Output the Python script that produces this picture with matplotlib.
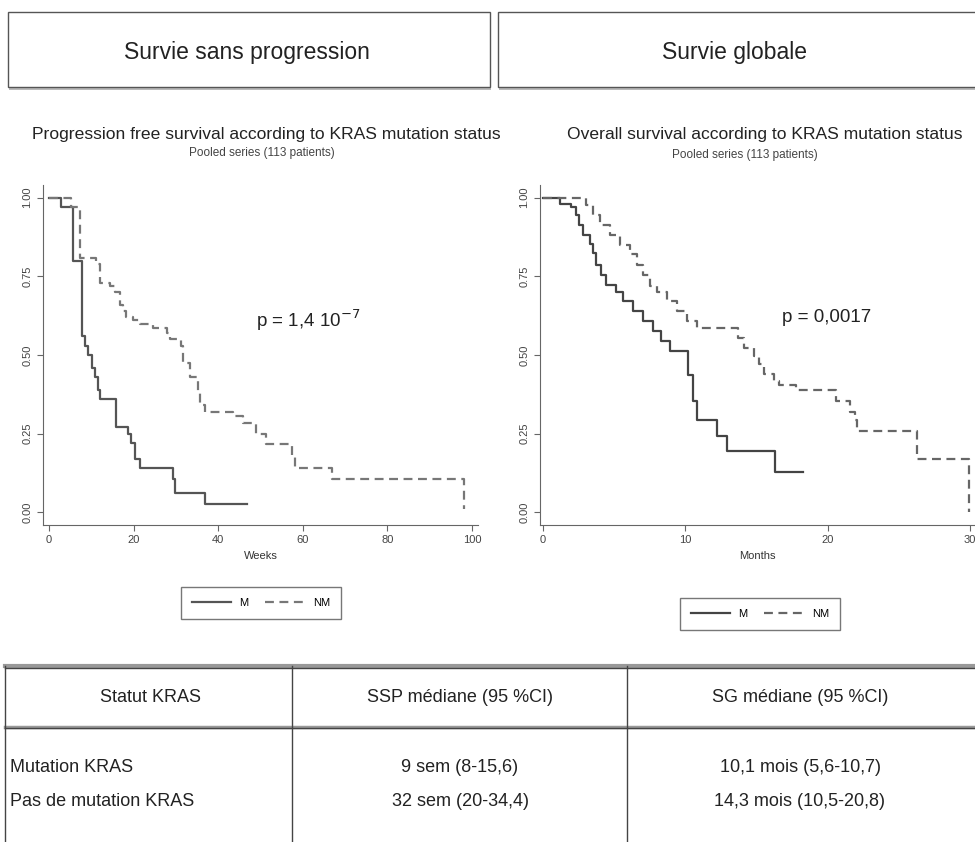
import matplotlib
matplotlib.use('Agg')
import matplotlib.pyplot as plt
from matplotlib.patches import Rectangle
from matplotlib.lines import Line2D

plt.rcParams['font.family'] = ['Liberation Sans', 'DejaVu Sans']

# panel headers
headers = ['Survie sans progression', 'Survie globale']

# PFS (weeks) - Kaplan-Meier steps
pfs_m_t = [0, 2.9, 5.7, 7.7, 8.5, 9.3, 10.1, 10.9, 11.7, 12.1, 15.9, 18.7, 19.5, 20.3, 21.5, 29.4, 29.8, 36.8, 46.7]
pfs_m_s = [1.0, 0.97, 0.80, 0.56, 0.53, 0.50, 0.46, 0.43, 0.39, 0.36, 0.27, 0.25, 0.22, 0.17, 0.14, 0.105, 0.063, 0.026, 0.026]
pfs_nm_t = [0, 5.3, 7.3, 11.2, 12.0, 14.4, 15.6, 16.7, 17.5, 18.3, 19.9, 21.5, 24.6, 27.8, 28.6, 31.3, 31.7, 33.3, 35.3, 35.7, 36.8, 43.5, 45.9, 49.0, 51.4, 57.4, 58.1, 66.8, 97.9, 98.0]
pfs_nm_s = [1.0, 0.97, 0.807, 0.79, 0.73, 0.72, 0.70, 0.66, 0.64, 0.62, 0.61, 0.60, 0.585, 0.57, 0.55, 0.53, 0.475, 0.43, 0.38, 0.34, 0.32, 0.306, 0.285, 0.25, 0.216, 0.18, 0.142, 0.105, 0.105, 0.01]

# OS (months)
os_m_t = [0, 1.2, 2.0, 2.3, 2.5, 2.8, 3.3, 3.5, 3.75, 4.1, 4.45, 5.15, 5.6, 6.3, 7.0, 7.7, 8.3, 8.9, 10.2, 10.55, 10.8, 12.2, 12.9, 16.3, 18.3]
os_m_s = [1.0, 0.98, 0.97, 0.944, 0.912, 0.88, 0.854, 0.823, 0.786, 0.754, 0.723, 0.70, 0.67, 0.64, 0.607, 0.575, 0.543, 0.512, 0.438, 0.353, 0.295, 0.243, 0.195, 0.127, 0.127]
os_nm_t = [0, 3.05, 3.5, 4.0, 4.7, 5.4, 6.1, 6.6, 7.0, 7.5, 8.0, 8.7, 9.4, 10.1, 10.8, 11.5, 13.7, 14.1, 14.8, 15.2, 15.5, 16.2, 16.6, 17.8, 20.6, 21.6, 21.9, 22.1, 26.25, 29.9, 29.95]
os_nm_s = [1.0, 0.976, 0.944, 0.912, 0.88, 0.85, 0.82, 0.786, 0.754, 0.72, 0.70, 0.67, 0.64, 0.607, 0.585, 0.585, 0.554, 0.522, 0.496, 0.47, 0.44, 0.417, 0.406, 0.39, 0.353, 0.32, 0.295, 0.258, 0.169, 0.169, 0.0]

plot_titles = ['Progression free survival according to KRAS mutation status',
               'Overall survival according to KRAS mutation status']
subtitle = 'Pooled series (113 patients)'
xlabels = ['Weeks', 'Months']
pvalues = ['p = 1,4 10$^{-7}$', 'p = 0,0017']
yticks = [0, 0.25, 0.5, 0.75, 1.0]
ytick_labels = ['0.00', '0.25', '0.50', '0.75', '1.00']
pfs_xticks = [0, 20, 40, 60, 80, 100]
os_xticks = [0, 10, 20, 30]

# table
table_cols = ['Statut KRAS', 'SSP médiane (95 %CI)', 'SG médiane (95 %CI)']
table_rows = ['Mutation KRAS', 'Pas de mutation KRAS']
table_ssp = ['9 sem (8-15,6)', '32 sem (20-34,4)']
table_sg = ['10,1 mois (5,6-10,7)', '14,3 mois (10,5-20,8)']

W, H = 975, 842
fig = plt.figure(figsize=(9.75, 8.42), dpi=100)

# background layer in pixel coordinates
bg = fig.add_axes([0, 0, 1, 1], zorder=0)
bg.set_xlim(0, W)
bg.set_ylim(H, 0)
bg.axis('off')

# header boxes
for x0, x1, txt in [(8, 490, headers[0]), (498, 990, headers[1])]:
    bg.add_patch(Rectangle((x0 + 1, 14), x1 - x0, 76, fc='#bbbbbb', ec='none', zorder=1))
    bg.add_patch(Rectangle((x0, 12), x1 - x0, 75, fc='white', ec='#555555', lw=1.0, zorder=2))
    bg.text((x0 + min(x1, W)) / 2 - 2, 53, txt, ha='center', va='center', fontsize=16.5,
            color='#222222', zorder=3)

# plot titles (left one clipped at panel edge)
clip_rect = Rectangle((0, 100), 491, 100, transform=bg.transData)
t = bg.text(266, 134, plot_titles[0], ha='center', va='center', fontsize=12.6, color='#222222')
t.set_clip_path(clip_rect)
bg.text(765, 134, plot_titles[1], ha='center', va='center', fontsize=12.6, color='#222222')
bg.text(262, 153, subtitle, ha='center', va='center', fontsize=8.5, color='#444444')
bg.text(745, 155, subtitle, ha='center', va='center', fontsize=8.5, color='#444444')

# p-values
bg.text(256, 320, pvalues[0], ha='left', va='center', fontsize=13.5, color='#222222', zorder=5)
bg.text(782, 318, pvalues[1], ha='left', va='center', fontsize=13.5, color='#222222', zorder=5)


def px_axes(x0, x1, y0, y1):
    return fig.add_axes([x0 / W, 1 - y1 / H, (x1 - x0) / W, (y1 - y0) / H], zorder=2)


def style(ax):
    for s in ['top', 'right']:
        ax.spines[s].set_visible(False)
    ax.spines['left'].set_color('#666666')
    ax.spines['bottom'].set_color('#666666')
    ax.set_yticks(yticks)
    ax.set_yticklabels(ytick_labels, rotation=90, va='center', fontsize=8, color='#444444')
    ax.tick_params(colors='#666666', length=4, labelsize=8, labelcolor='#444444')
    ax.set_ylim(-0.04, 1.04)
    ax.patch.set_alpha(0)


leg_kw = dict(loc='center', bbox_transform=fig.transFigure, ncol=2, fancybox=False,
              edgecolor='#555555', fontsize=8, handlelength=3.5, borderpad=1.0,
              columnspacing=1.5)

ax1 = px_axes(43, 478, 185, 525)
ax1.step(pfs_m_t, pfs_m_s, where='post', color='#555555', lw=1.6, label='M')
ax1.step(pfs_nm_t, pfs_nm_s, where='post', color='#777777', lw=1.6, ls=(0, (4, 2.5)), label='NM')
ax1.set_xlim(-1.4, 101.4)
ax1.set_xticks(pfs_xticks)
style(ax1)
ax1.set_xlabel(xlabels[0], fontsize=8, color='#333333')
ax1.legend(bbox_to_anchor=(261 / W, 1 - 603 / H), **leg_kw)

ax2 = px_axes(540, 975, 185, 525)
ax2.step(os_m_t, os_m_s, where='post', color='#444444', lw=1.6, label='M')
ax2.step(os_nm_t, os_nm_s, where='post', color='#666666', lw=1.6, ls=(0, (4, 2.5)), label='NM')
ax2.set_xlim(-0.21, 30.36)
ax2.set_xticks(os_xticks)
style(ax2)
ax2.set_xlabel(xlabels[1], fontsize=8, color='#333333')
ax2.legend(bbox_to_anchor=(760 / W, 1 - 614 / H), **leg_kw)

# table lines
lc = '#444444'
bg.add_line(Line2D([5, W], [666, 666], color='#999999', lw=3))
bg.add_line(Line2D([5, W], [668, 668], color=lc, lw=1))
bg.add_line(Line2D([5, W], [727, 727], color='#999999', lw=2.5))
bg.add_line(Line2D([5, W], [728, 728], color=lc, lw=1))
for xv in [5, 292, 627]:
    bg.add_line(Line2D([xv, xv], [666, H], color=lc, lw=1))

col_x = [150, 460, 800]
for cx, txt in zip(col_x, table_cols):
    bg.text(cx, 697, txt, ha='center', va='center', fontsize=13, color='#222222')
row_y = [768, 802]
for i, ry in enumerate(row_y):
    bg.text(10, ry, table_rows[i], ha='left', va='center', fontsize=13, color='#222222')
    bg.text(col_x[1], ry, table_ssp[i], ha='center', va='center', fontsize=13, color='#222222')
    bg.text(col_x[2], ry, table_sg[i], ha='center', va='center', fontsize=13, color='#222222')

fig.savefig('out.png', dpi=100)
